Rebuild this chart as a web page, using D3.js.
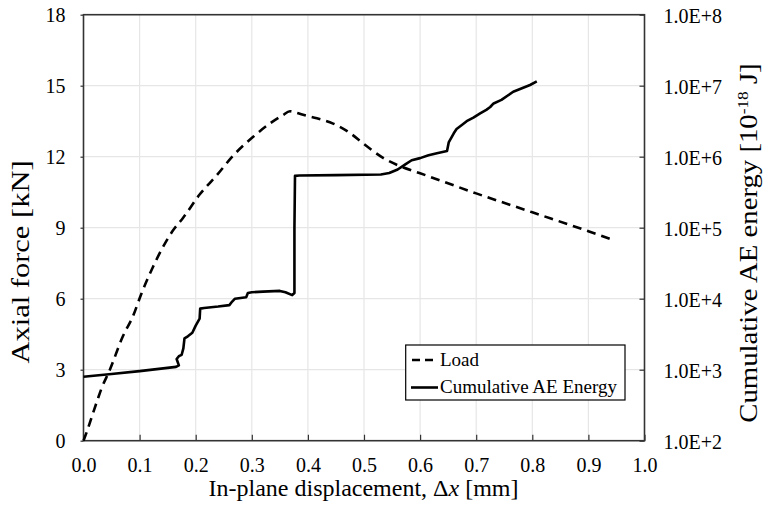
<!DOCTYPE html>
<html>
<head>
<meta charset="utf-8">
<script src="https://cdn.jsdelivr.net/npm/d3@7/dist/d3.min.js"></script>
<style>
  html, body { margin: 0; padding: 0; background: #fff; }
  svg { display: block; }
  text { font-family: "Liberation Serif", "Times New Roman", serif; fill: #000; }
</style>
</head>
<body>
<svg id="chart" width="764" height="506"></svg>
<script>
// ---- Data ----
const xTicks = [0, 0.1, 0.2, 0.3, 0.4, 0.5, 0.6, 0.7, 0.8, 0.9, 1.0];
const forceTicks = [0, 3, 6, 9, 12, 15, 18];
const energyTicks = [1e2, 1e3, 1e4, 1e5, 1e6, 1e7, 1e8];

// Load curve: displacement [mm] vs axial force [kN]
const loadX = [0, 0.007, 0.016, 0.026, 0.032, 0.047, 0.070, 0.088, 0.103, 0.124, 0.142, 0.160, 0.177, 0.207, 0.237, 0.267, 0.303, 0.332, 0.355, 0.368, 0.380, 0.390, 0.416, 0.445, 0.475, 0.499, 0.534, 0.564, 0.600, 0.700, 0.800, 0.900, 0.945];
const loadY = [0, 0.45, 1.1, 1.8, 2.2, 3.0, 4.4, 5.25, 6.2, 7.35, 8.2, 8.9, 9.4, 10.4, 11.2, 12.05, 12.85, 13.4, 13.75, 13.92, 13.85, 13.78, 13.62, 13.4, 13.0, 12.55, 11.95, 11.6, 11.3, 10.45, 9.65, 8.85, 8.47];

// Cumulative AE energy [1e-18 J]
const aeX = [0, 0.050, 0.100, 0.165, 0.170, 0.166, 0.170, 0.175, 0.178, 0.180, 0.186, 0.194, 0.200, 0.207, 0.208, 0.215, 0.240, 0.260, 0.265, 0.270, 0.290, 0.293, 0.300, 0.320, 0.350, 0.360, 0.372, 0.376, 0.376, 0.377, 0.385, 0.450, 0.530, 0.545, 0.560, 0.575, 0.585, 0.600, 0.615, 0.630, 0.648, 0.651, 0.660, 0.665, 0.675, 0.683, 0.695, 0.707, 0.718, 0.725, 0.731, 0.745, 0.766, 0.796, 0.808];
const aeY = [794, 871, 955, 1096, 1148, 1413, 1549, 1622, 1995, 2754, 2951, 3311, 4169, 5248, 7244, 7413, 7762, 8128, 9120, 10000, 10470, 12020, 12300, 12590, 12880, 12300, 11220, 12020, 100000, 537000, 543000, 550000, 562000, 589000, 661000, 794000, 891000, 955000, 1047000, 1122000, 1202000, 1585000, 2138000, 2455000, 2818000, 3162000, 3548000, 4074000, 4571000, 5012000, 5623000, 6310000, 8222000, 10230000, 11480000];

const legendLabels = ["Load", "Cumulative AE Energy"];

// ---- Layout ----
const L = 83.5, R = 644.5, T = 14.7, B = 440.7;
const svg = d3.select("#chart");

const x = d3.scaleLinear().domain([0, 1]).range([L, R]);
const yF = d3.scaleLinear().domain([0, 18]).range([B, T]);
const yE = d3.scaleLog().domain([1e2, 1e8]).range([B, T]);

// gridlines
const grid = svg.append("g").attr("stroke", "#e6e6e6").attr("stroke-width", 1.2);
xTicks.slice(1, -1).forEach(v => grid.append("line").attr("x1", x(v)).attr("x2", x(v)).attr("y1", T).attr("y2", B));
forceTicks.slice(1, -1).forEach(v => grid.append("line").attr("x1", L).attr("x2", R).attr("y1", yF(v)).attr("y2", yF(v)));

// axes
const fmtX = d3.format(".1f");
const gx = svg.append("g").attr("transform", `translate(0,${B})`)
  .call(d3.axisBottom(x).tickValues(xTicks).tickFormat(fmtX).tickSizeInner(-6).tickSizeOuter(0).tickPadding(31));
const gl = svg.append("g").attr("transform", `translate(${L},0)`)
  .call(d3.axisLeft(yF).tickValues(forceTicks).tickSizeInner(3).tickSizeOuter(0).tickPadding(15));
const fmtE = v => "1.0E+" + Math.round(Math.log10(v));
const gr = svg.append("g").attr("transform", `translate(${R},0)`)
  .call(d3.axisRight(yE).tickValues(energyTicks).tickFormat(fmtE).tickSizeInner(-5).tickSizeOuter(0).tickPadding(19));

[gx, gl, gr].forEach(g => {
  g.selectAll(".domain").remove();
  g.selectAll("line").attr("stroke", "#333").attr("stroke-width", 1.2);
  g.selectAll("text").style("font-size", "20px").attr("fill", "#000");
});
gx.selectAll("text").attr("dy", "0em");
gl.selectAll("text").attr("dy", "0.35em");
gr.selectAll("text").attr("dy", "0.4em");

// frame
svg.append("rect").attr("x", L).attr("y", T).attr("width", R - L).attr("height", B - T)
  .attr("fill", "none").attr("stroke", "#333").attr("stroke-width", 1.6);

// lines
const loadData = loadX.map((v, i) => [v, loadY[i]]);
const aeData = aeX.map((v, i) => [v, aeY[i]]);

svg.append("path").datum(loadData)
  .attr("d", d3.line().x(d => x(d[0])).y(d => yF(d[1])).curve(d3.curveMonotoneX))
  .attr("fill", "none").attr("stroke", "#000").attr("stroke-width", 2.6)
  .attr("stroke-dasharray", "9,6");

svg.append("path").datum(aeData)
  .attr("d", d3.line().x(d => x(d[0])).y(d => yE(d[1])))
  .attr("fill", "none").attr("stroke", "#000").attr("stroke-width", 2.6)
  .attr("stroke-linejoin", "round");

// titles
svg.append("text").attr("x", 363.5).attr("y", 496).attr("text-anchor", "middle")
  .style("font-size", "24px")
  .html('In-plane displacement, Δ<tspan font-style="italic">x</tspan> [mm]');

svg.append("text").attr("transform", "translate(29,262) rotate(-90) scale(1.22,1)").attr("text-anchor", "middle")
  .style("font-size", "25px").text("Axial force [kN]");

svg.append("text").attr("transform", "translate(757,243) rotate(-90) scale(1.15,1)").attr("text-anchor", "middle")
  .style("font-size", "25px")
  .html('Cumulative AE energy [10<tspan dy="-9" font-size="15px">-18</tspan><tspan dy="9"> J]</tspan>');

// legend
const lg = svg.append("g");
lg.append("rect").attr("x", 405.7).attr("y", 345).attr("width", 219.3).attr("height", 55)
  .attr("fill", "#fff").attr("stroke", "#000").attr("stroke-width", 1.2);
lg.append("line").attr("x1", 412).attr("x2", 438).attr("y1", 360).attr("y2", 360)
  .attr("stroke", "#000").attr("stroke-width", 2.6).attr("stroke-dasharray", "8,5");
lg.append("line").attr("x1", 411).attr("x2", 438).attr("y1", 387.5).attr("y2", 387.5)
  .attr("stroke", "#000").attr("stroke-width", 2.6);
lg.append("text").attr("x", 440).attr("y", 366).style("font-size", "19px").text(legendLabels[0]);
lg.append("text").attr("x", 440).attr("y", 393).style("font-size", "19px").text(legendLabels[1]);
</script>
</body>
</html>
